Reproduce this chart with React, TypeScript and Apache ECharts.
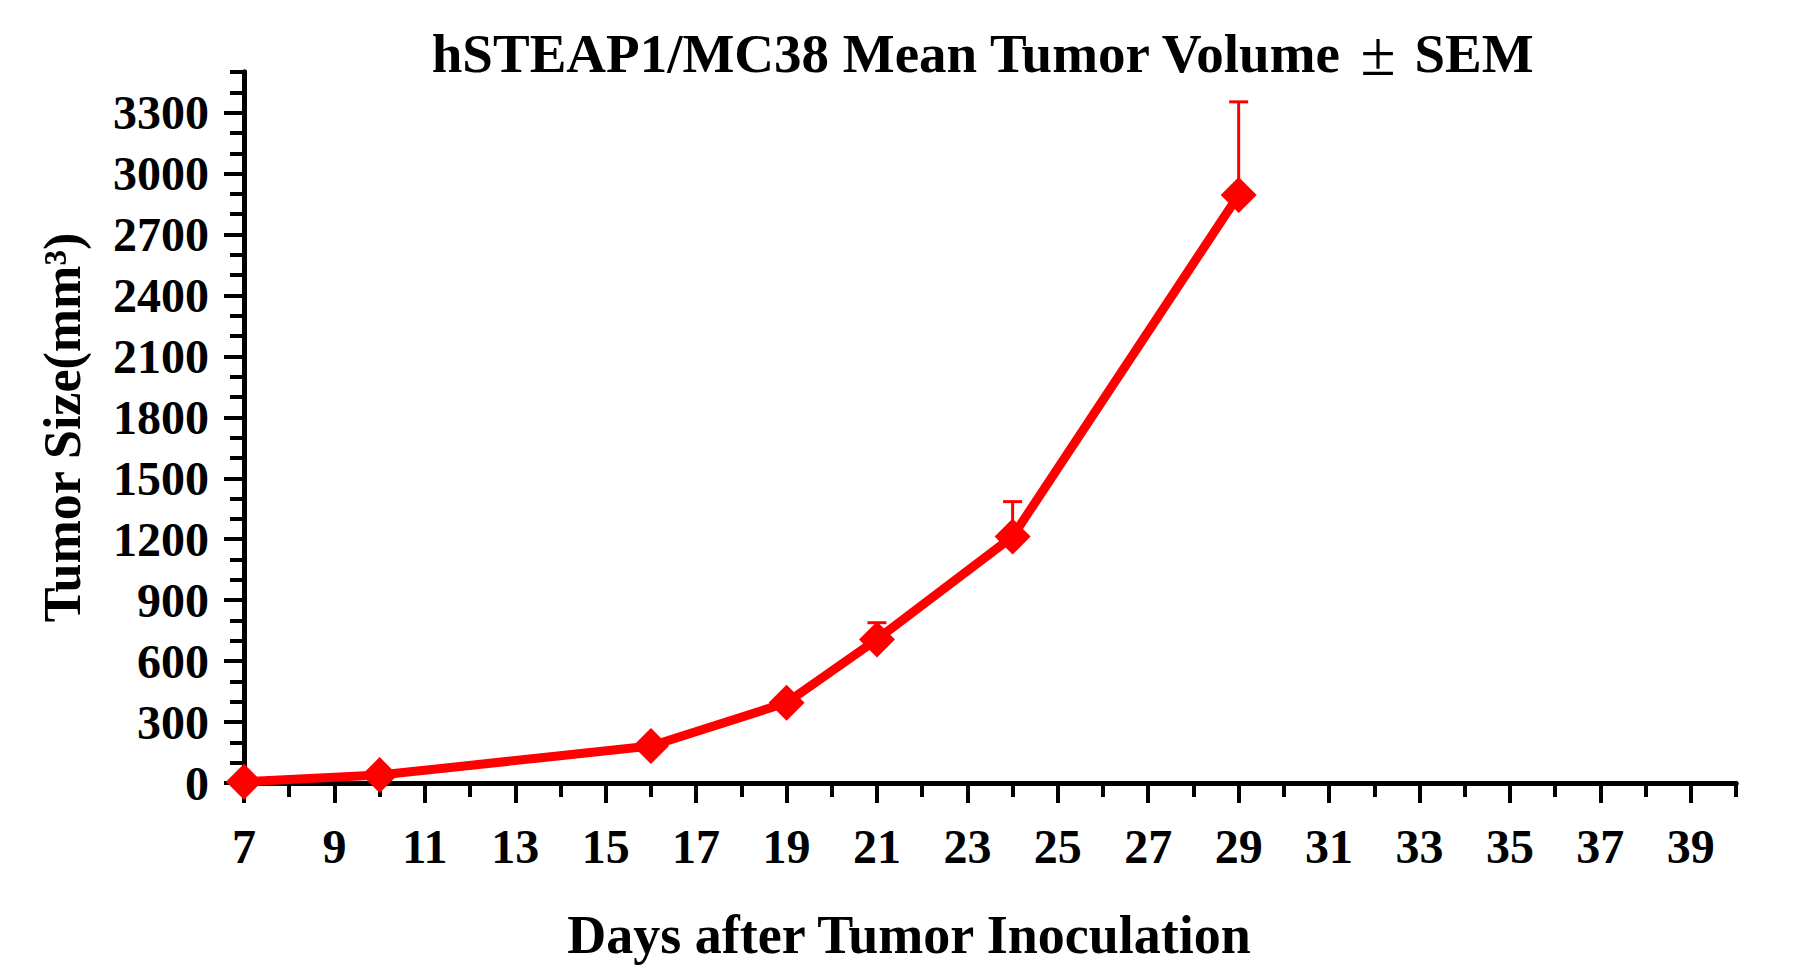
import React, { useEffect, useRef } from "react";
import * as echarts from "echarts";

// ---- data ----
const days = [7, 10, 16, 19, 21, 24, 29];
const meanVolume = [6, 39, 182, 395, 707, 1213, 2895];
const semUpper = [2, 6, 20, 30, 82, 172, 458];

const xMajorTicks = [7, 9, 11, 13, 15, 17, 19, 21, 23, 25, 27, 29, 31, 33, 35, 37, 39];
const yMajorTicks = [0, 300, 600, 900, 1200, 1500, 1800, 2100, 2400, 2700, 3000, 3300];

const titleMain = "hSTEAP1/MC38 Mean Tumor Volume";
const titlePm = "\u00B1";
const titleEnd = "SEM";
const xAxisTitle = "Days after Tumor Inoculation";
const yAxisTitle = "Tumor Size(mm\u00B3)";

const FONT = '"Liberation Serif", "Times New Roman", serif';
const RED = "#ff0000";

export default function App() {
  const ref = useRef<HTMLDivElement>(null);

  useEffect(() => {
    if (!ref.current) return;
    const chart = echarts.init(ref.current, undefined, { renderer: "svg" });

    const axisLine = { show: true, lineStyle: { color: "#000", width: 5 } };
    const labelStyle = {
      color: "#000",
      fontFamily: FONT,
      fontWeight: "bold" as const,
      fontSize: 48,
      formatter: (v: number) => String(v),
    };

    const option: any = {
      animation: false,
      backgroundColor: "#fff",
      title: {
        text: `{a|${titleMain}}{p|${titlePm}}{a|${titleEnd}}`,
        left: 982,
        top: 21,
        padding: 0,
        textAlign: "center",
        textStyle: {
          color: "#000",
          fontFamily: FONT,
          fontWeight: "bold",
          fontSize: 55,
          rich: {
            a: { color: "#000", fontFamily: FONT, fontWeight: "bold", fontSize: 55 },
            p: {
              color: "#000",
              fontFamily: FONT,
              fontWeight: "normal",
              fontSize: 64,
              padding: [0, 19, 0, 19],
            },
          },
        },
      },
      grid: { left: 244, right: 66, top: 72, bottom: 195, containLabel: false },
      xAxis: [
        {
          type: "value",
          position: "bottom",
          min: 7,
          max: 40,
          interval: 1,
          axisLine,
          axisTick: { show: true, inside: false, length: 14, lineStyle: { color: "#000", width: 4 } },
          axisLabel: { show: false },
          splitLine: { show: false },
        },
        {
          type: "value",
          position: "bottom",
          min: 7,
          max: 40,
          interval: 2,
          axisLine,
          axisTick: {
            show: true,
            inside: false,
            length: 20,
            customValues: xMajorTicks,
            lineStyle: { color: "#000", width: 4 },
          },
          axisLabel: { ...labelStyle, margin: 39, customValues: xMajorTicks },
          splitLine: { show: false },
          name: xAxisTitle,
          nameLocation: "middle",
          nameGap: 125,
          nameTextStyle: {
            color: "#000",
            fontFamily: FONT,
            fontWeight: "bold",
            fontSize: 54,
            padding: [0, 162, 0, 0],
          },
        },
      ],
      yAxis: [
        {
          type: "value",
          position: "left",
          min: 0,
          max: 3500,
          interval: 100,
          axisLine,
          axisTick: { show: true, inside: false, length: 14, lineStyle: { color: "#000", width: 4 } },
          axisLabel: { show: false },
          splitLine: { show: false },
        },
        {
          type: "value",
          position: "left",
          min: 0,
          max: 3500,
          interval: 300,
          axisLine,
          axisTick: {
            show: true,
            inside: false,
            length: 20,
            customValues: yMajorTicks,
            lineStyle: { color: "#000", width: 4 },
          },
          axisLabel: { ...labelStyle, margin: 35, customValues: yMajorTicks },
          splitLine: { show: false },
          name: yAxisTitle,
          nameLocation: "middle",
          nameGap: 156,
          nameTextStyle: {
            color: "#000",
            fontFamily: FONT,
            fontWeight: "bold",
            fontSize: 52,
          },
        },
      ],
      series: [
        {
          type: "custom",
          name: "SEM",
          xAxisIndex: 0,
          yAxisIndex: 0,
          z: 2,
          data: days.map((d, i) => [d, meanVolume[i], semUpper[i]]),
          renderItem: (params: any, api: any) => {
            const x = api.value(0);
            const y = api.value(1);
            const e = api.value(2);
            const p0 = api.coord([x, y]);
            const p1 = api.coord([x, y + e]);
            const half = 9.5;
            const style = { stroke: RED, lineWidth: 3 };
            return {
              type: "group",
              children: [
                { type: "line", shape: { x1: p0[0], y1: p0[1], x2: p1[0], y2: p1[1] }, style },
                { type: "line", shape: { x1: p1[0] - half, y1: p1[1], x2: p1[0] + half, y2: p1[1] }, style },
              ],
            };
          },
        },
        {
          type: "line",
          name: "Mean",
          xAxisIndex: 0,
          yAxisIndex: 0,
          z: 3,
          data: days.map((d, i) => [d, meanVolume[i]]),
          symbol: "diamond",
          symbolSize: 36,
          itemStyle: { color: RED },
          lineStyle: { color: RED, width: 9 },
        },
      ],
    };

    chart.setOption(option);
    return () => chart.dispose();
  }, []);

  return (
    <div
      ref={ref}
      style={{ position: "absolute", left: 0, top: 0, width: 1802, height: 978, background: "#fff" }}
    />
  );
}
